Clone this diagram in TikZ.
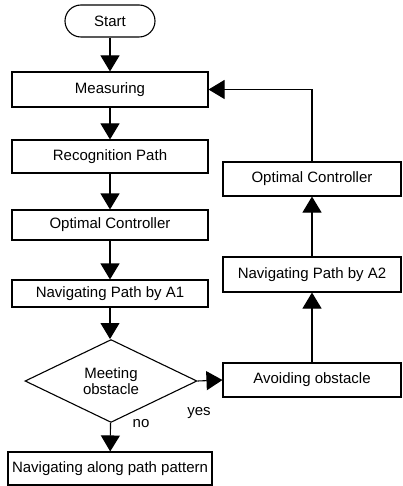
\documentclass[tikz,border=0pt]{standalone}
\usepackage{fontspec}
\setmainfont{Liberation Sans}
\usetikzlibrary{shapes.geometric,arrows.meta}
\begin{document}
\begin{tikzpicture}[x=1pt,y=-1pt,
  font=\fontsize{15}{17}\selectfont,
  box/.style={draw,line width=1.1pt,inner sep=0pt,minimum width=196pt},
  rbox/.style={draw,line width=1.1pt,inner sep=0pt,minimum width=178pt,minimum height=34pt},
  conn/.style={line width=1.1pt,-{Triangle[length=16pt,width=19pt]}},
  plain/.style={line width=1.1pt}]
\useasboundingbox (0,0) rectangle (403,486);
\node[draw,line width=1.1pt,rounded corners=16pt,minimum width=90pt,minimum height=32pt,inner sep=0pt] (start) at (110,21) {Start};
\node[box,minimum height=35pt] (meas) at (110,89.5) {Measuring};
\node[box,minimum height=33pt] (rec) at (110,156.5) {Recognition Path};
\node[box,minimum height=30pt] (oc1) at (110,225) {Optimal Controller};
\node[box,minimum height=27pt] (a1) at (110,293.5) {Navigating Path by A1};
\node[draw,line width=1.1pt,diamond,minimum width=172pt,minimum height=68pt,inner sep=0pt,align=center,font=\fontsize{15}{16}\selectfont] (dec) at (111,381) {Meeting\\obstacle};
\node[draw,line width=1.1pt,minimum width=204pt,minimum height=33pt,inner sep=0pt] (along) at (110,468.5) {Navigating along path pattern};
\node[rbox] (oc2) at (312,179) {Optimal Controller};
\node[rbox,minimum height=35pt] (a2) at (312,274.5) {Navigating Path by A2};
\node[rbox] (avoid) at (312,380) {Avoiding obstacle};
\node (yes) at (199,413) {yes};
\node (no) at (141,424) {no};
\draw[conn] (start) -- (meas);
\draw[conn] (meas) -- (rec);
\draw[conn] (rec) -- (oc1);
\draw[conn] (oc1) -- (a1);
\draw[conn] (a1) -- (dec.north -| a1);
\draw[conn] (dec) -- (along);
\draw[conn] (dec.east) -- (avoid.west);
\draw[conn] (avoid) -- (a2);
\draw[conn] (a2) -- (oc2);
\draw[conn] (oc2.north) |- (meas.east);
\end{tikzpicture}
\end{document}
